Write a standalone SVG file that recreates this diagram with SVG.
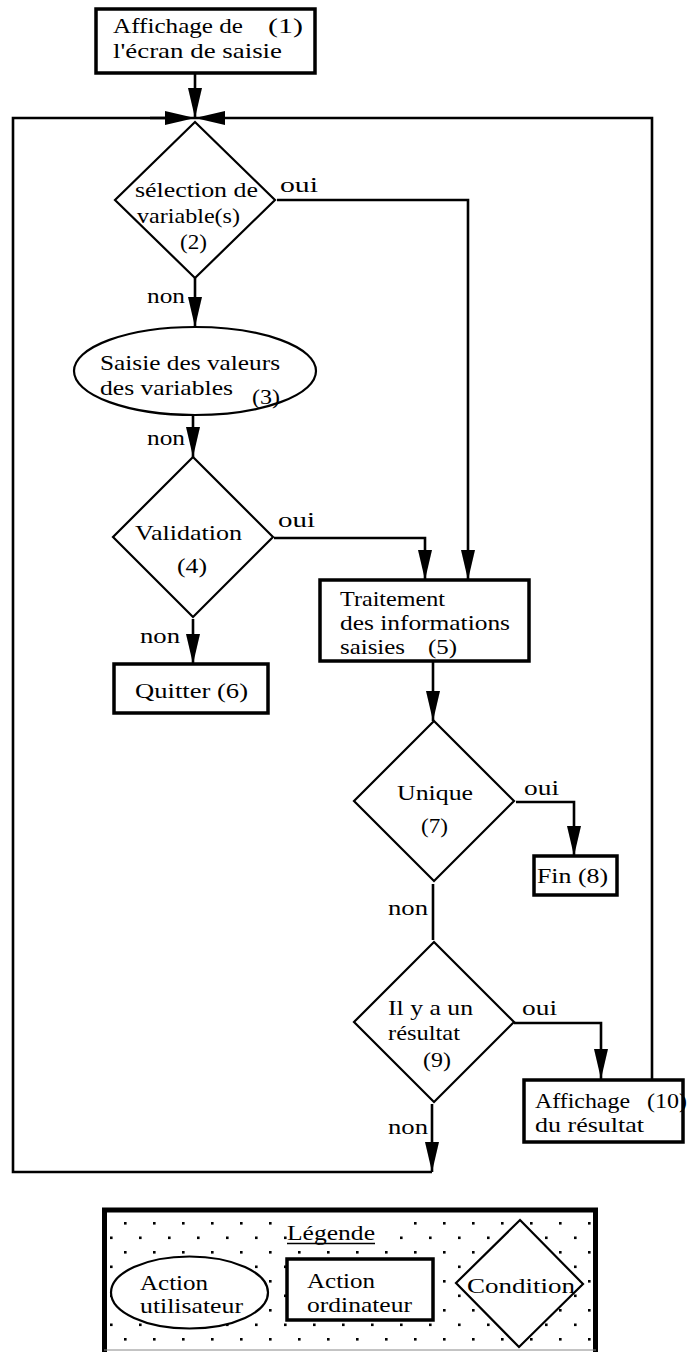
<svg xmlns="http://www.w3.org/2000/svg" width="688" height="1352" viewBox="0 0 688 1352">
<style>
.t{font-family:"Liberation Serif","Times New Roman",serif;font-size:21px;fill:#000}
.box{fill:#fff;stroke:#000;stroke-width:3.5}
.dia{fill:#fff;stroke:#000;stroke-width:2.2}
.ell{fill:#fff;stroke:#000;stroke-width:2.2}
.ln{fill:none;stroke:#000;stroke-width:2.6}
.arr{fill:none;stroke:#000;stroke-width:2.6;marker-end:url(#ah)}
</style>
<defs>
<marker id="ah" viewBox="0 0 30 14" refX="30" refY="7" markerWidth="30" markerHeight="14" markerUnits="userSpaceOnUse" orient="auto">
<path d="M0,0 L30,7 L0,14 z" fill="#000"/>
</marker>
<pattern id="dots" patternUnits="userSpaceOnUse" x="110" y="1222" width="29" height="29">
<rect x="14" y="0" width="2.6" height="2.6" fill="#000"/>
<rect x="0" y="14.5" width="2.6" height="2.6" fill="#000"/>
</pattern>
</defs>
<rect x="0" y="0" width="688" height="1352" fill="#fff"/>

<g id="connectors">
<path class="arr" d="M195 73 V118"/>
<path class="arr" d="M432 1104 V1172"/>
<path class="ln" d="M432 1172 H13 V118 H165"/>
<path class="arr" d="M150 118 H195"/>
<path class="ln" d="M652 1080 V118 H240"/>
<path class="arr" d="M240 118 H195"/>
<path class="arr" d="M277 200 H468 V580"/>
<path class="arr" d="M195 278 V327"/>
<path class="arr" d="M193 415 V457"/>
<path class="arr" d="M193 619 V664"/>
<path class="arr" d="M274 538 H425 V580"/>
<path class="arr" d="M433 661 V721"/>
<path class="arr" d="M516 802 H574 V856"/>
<path class="ln" d="M433 884 V940"/>
<path class="arr" d="M514 1023 H601 V1079"/>
<text class="t" x="280" y="192" textLength="38" lengthAdjust="spacingAndGlyphs">oui</text>
<text class="t" x="147" y="303" textLength="38" lengthAdjust="spacingAndGlyphs">non</text>
<text class="t" x="147" y="445" textLength="38" lengthAdjust="spacingAndGlyphs">non</text>
<text class="t" x="278" y="527" textLength="37" lengthAdjust="spacingAndGlyphs">oui</text>
<text class="t" x="140" y="643" textLength="40" lengthAdjust="spacingAndGlyphs">non</text>
<text class="t" x="524" y="795" textLength="35" lengthAdjust="spacingAndGlyphs">oui</text>
<text class="t" x="388" y="915" textLength="40" lengthAdjust="spacingAndGlyphs">non</text>
<text class="t" x="522" y="1015" textLength="35" lengthAdjust="spacingAndGlyphs">oui</text>
<text class="t" x="388" y="1134" textLength="40" lengthAdjust="spacingAndGlyphs">non</text>
</g>

<g id="n1">
<rect class="box" x="96" y="9" width="219" height="64"/>
<text class="t" x="113" y="33" textLength="130" lengthAdjust="spacingAndGlyphs">Affichage de</text>
<text class="t" x="268" y="33" textLength="35" lengthAdjust="spacingAndGlyphs">(1)</text>
<text class="t" x="113" y="58" textLength="169" lengthAdjust="spacingAndGlyphs">l'écran de saisie</text>
</g>

<g id="n2">
<polygon class="dia" points="195,122 275,200 195,278 115,200"/>
<text class="t" x="135" y="197" textLength="123" lengthAdjust="spacingAndGlyphs">sélection de</text>
<text class="t" x="137" y="223" textLength="103" lengthAdjust="spacingAndGlyphs">variable(s)</text>
<text class="t" x="180" y="249" textLength="27" lengthAdjust="spacingAndGlyphs">(2)</text>
</g>

<g id="n3">
<ellipse class="ell" cx="195" cy="371" rx="121" ry="44"/>
<text class="t" x="100" y="370" textLength="180" lengthAdjust="spacingAndGlyphs">Saisie des valeurs</text>
<text class="t" x="100" y="395" textLength="133" lengthAdjust="spacingAndGlyphs">des variables</text>
<text class="t" x="252" y="404" textLength="28" lengthAdjust="spacingAndGlyphs">(3)</text>
</g>

<g id="n4">
<polygon class="dia" points="193,457 273,537 193,617 113,537"/>
<text class="t" x="135" y="540" textLength="107" lengthAdjust="spacingAndGlyphs">Validation</text>
<text class="t" x="177" y="573" textLength="30" lengthAdjust="spacingAndGlyphs">(4)</text>
</g>

<g id="n5">
<rect class="box" x="320" y="580" width="209" height="81"/>
<text class="t" x="340" y="606" textLength="105" lengthAdjust="spacingAndGlyphs">Traitement</text>
<text class="t" x="340" y="630" textLength="170" lengthAdjust="spacingAndGlyphs">des informations</text>
<text class="t" x="340" y="654" textLength="65" lengthAdjust="spacingAndGlyphs">saisies</text>
<text class="t" x="428" y="654" textLength="29" lengthAdjust="spacingAndGlyphs">(5)</text>
</g>

<g id="n6">
<rect class="box" x="114" y="664" width="154" height="49"/>
<text class="t" x="135" y="698" textLength="113" lengthAdjust="spacingAndGlyphs">Quitter  (6)</text>
</g>

<g id="n7">
<polygon class="dia" points="434,721 514,801 434,881 354,801"/>
<text class="t" x="397" y="800" textLength="76" lengthAdjust="spacingAndGlyphs">Unique</text>
<text class="t" x="421" y="833" textLength="27" lengthAdjust="spacingAndGlyphs">(7)</text>
</g>

<g id="n8">
<rect class="box" x="534" y="856" width="83" height="39"/>
<text class="t" x="537" y="883" textLength="71" lengthAdjust="spacingAndGlyphs">Fin (8)</text>
</g>

<g id="n9">
<polygon class="dia" points="434,942 514,1022 434,1102 354,1022"/>
<text class="t" x="388" y="1015" textLength="85" lengthAdjust="spacingAndGlyphs">Il y a un</text>
<text class="t" x="388" y="1040" textLength="72" lengthAdjust="spacingAndGlyphs">résultat</text>
<text class="t" x="423" y="1067" textLength="28" lengthAdjust="spacingAndGlyphs">(9)</text>
</g>

<g id="n10">
<rect class="box" x="524" y="1080" width="159" height="62"/>
<text class="t" x="535" y="1108" textLength="95" lengthAdjust="spacingAndGlyphs">Affichage</text>
<text class="t" x="647" y="1108" textLength="40" lengthAdjust="spacingAndGlyphs">(10)</text>
<text class="t" x="535" y="1132" textLength="109" lengthAdjust="spacingAndGlyphs">du résultat</text>
</g>

<g id="legend">
<rect x="104.5" y="1210" width="491" height="142" fill="url(#dots)"/>
<path d="M104.5 1352 V1210 H595.5 V1352" fill="none" stroke="#000" stroke-width="5"/>
<line x1="104" y1="1350" x2="596" y2="1350" stroke="#888" stroke-width="1"/>
<rect x="287" y="1213" width="112" height="32" fill="#fff"/>
<text class="t" x="287" y="1240" textLength="88" lengthAdjust="spacingAndGlyphs">Légende</text>
<line x1="287" y1="1243.5" x2="375" y2="1243.5" stroke="#000" stroke-width="1.5"/>
<ellipse class="ell" cx="189.5" cy="1292.5" rx="78.5" ry="36"/>
<text class="t" x="140" y="1290" textLength="68" lengthAdjust="spacingAndGlyphs">Action</text>
<text class="t" x="140" y="1313" textLength="103" lengthAdjust="spacingAndGlyphs">utilisateur</text>
<rect class="box" x="287" y="1259" width="146" height="61"/>
<text class="t" x="307" y="1288" textLength="68" lengthAdjust="spacingAndGlyphs">Action</text>
<text class="t" x="307" y="1312" textLength="105" lengthAdjust="spacingAndGlyphs">ordinateur</text>
<polygon class="dia" points="520,1220 583,1284 519,1347 456,1283"/>
<text class="t" x="467" y="1293" textLength="108" lengthAdjust="spacingAndGlyphs">Condition</text>
</g>
</svg>
